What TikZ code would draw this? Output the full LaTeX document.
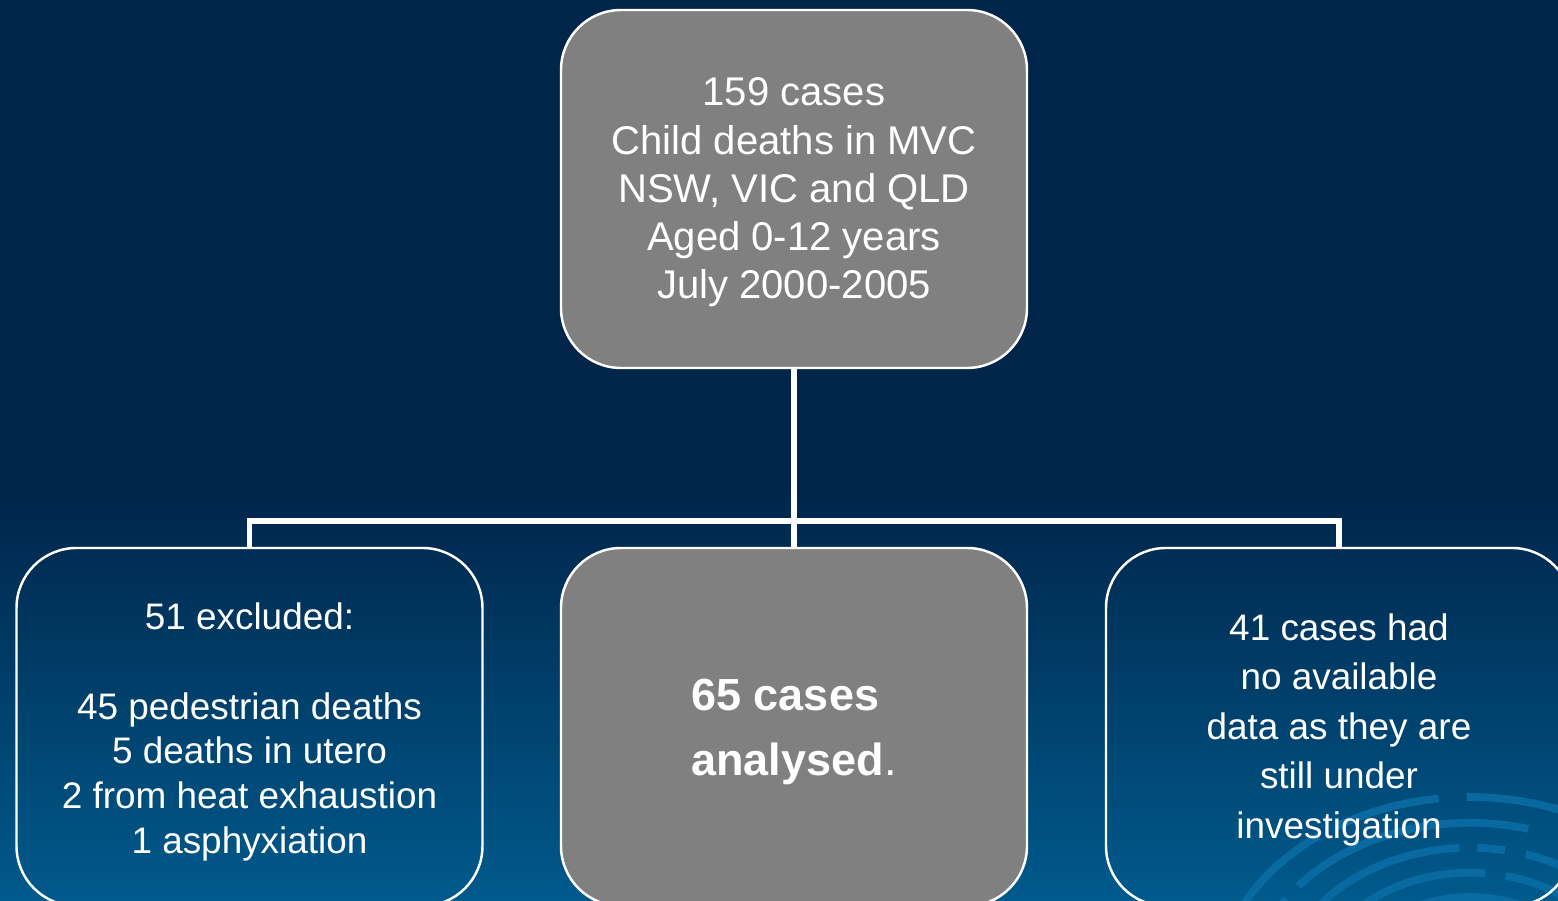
\documentclass[tikz,border=0pt]{standalone}
\usepackage{fontspec}
\setmainfont{Liberation Sans}
\usetikzlibrary{calc}
\definecolor{navy}{HTML}{00254A}
\definecolor{deepsea}{HTML}{005A8C}
\definecolor{swirl}{HTML}{0B6EA6}
\definecolor{boxgray}{HTML}{808080}
\tikzset{
  card/.style={draw=white, line width=0.7pt, rounded corners=0.6cm, minimum width=4.66cm,
    minimum height=3.58cm, inner sep=0pt, align=center, text=white},
  greycard/.style={card, fill=boxgray},
  link/.style={draw=white, line width=1.5pt},
  ring/.style={draw=swirl, line width=2.2pt, opacity=0.85},
  bigtxt/.style={font=\fontsize{11.4}{13.7}\selectfont},
  smalltxt/.style={font=\fontsize{10.5}{12.7}\selectfont},
  widetxt/.style={font=\fontsize{10.5}{14.1}\selectfont},
  boldtxt/.style={font=\fontsize{12.8}{18.5}\selectfont}
}
\newcommand{\topline}[1]{\rule{0pt}{#1}}

\begin{document}
\begin{tikzpicture}
  \useasboundingbox (0,0) rectangle (15.58,9.01);
  \clip (0,0) rectangle (15.58,9.01);

  \fill[navy] (0,0) rectangle (15.58,9.01);
  \shade[top color=navy, bottom color=deepsea] (0,0) rectangle (15.58,4.1);

  \foreach \r/\d in {2.55/{on 45pt off 6pt on 30pt off 8pt},
                     2.22/{on 20pt off 5pt on 70pt off 9pt},
                     1.9/{on 8pt off 6pt on 50pt off 5pt},
                     1.58/{on 60pt off 6pt},
                     1.27/{on 90pt off 4pt}}
    \draw[ring, dash pattern/.expanded=\d] (14.7,-0.95) ++(168:{\r} and {0.78*\r})
      arc[start angle=168, end angle=0, x radius=\r, y radius=0.78*\r];
  \fill[swirl, opacity=0.5] (14.7,-0.95) ellipse (1.0 and 0.8);

  \node[greycard, bigtxt] (total) at (7.94,7.12)
    {\topline{9.9pt}159 cases\\Child deaths in MVC\\NSW, VIC and QLD\\Aged 0-12 years\\July 2000-2005};
  \node[card, smalltxt] (excluded) at (2.495,1.74)
    {\topline{10.4pt}51 excluded:\\[12.7pt]45 pedestrian deaths\\5 deaths in utero\\2 from heat exhaustion\\1 asphyxiation};
  \node[greycard, boldtxt, align=left] (analysed) at (7.94,1.74)
    {\topline{12pt}\textbf{65 cases}\\\textbf{analysed}.};
  \node[card, widetxt] (pending) at (13.39,1.74)
    {\topline{9.2pt}41 cases had\\no available\\data as they are\\still under\\investigation};

  \coordinate (split) at (7.94,3.80);
  \draw[link] (total) -- (split);
  \draw[link] (excluded.north) |- (split) -| (pending.north);
  \draw[link] (split) -- (analysed.north);
\end{tikzpicture}
\end{document}
